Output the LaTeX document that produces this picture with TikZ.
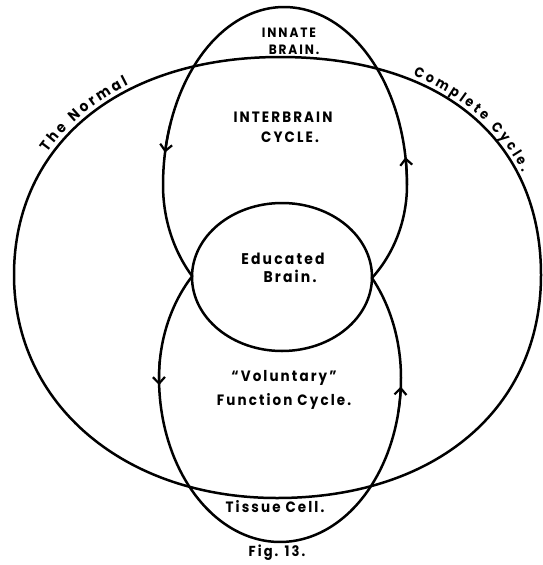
\documentclass[tikz,border=0pt]{standalone}
\usepackage{fontspec}
\setmainfont{Poppins}
\newfontfamily\handfont{Poppins}[LetterSpace=14, FakeStretch=0.9]
\newfontfamily\curvefont{Poppins}[FakeStretch=0.9]
\usetikzlibrary{arrows.meta,decorations.text,shapes.geometric}
\newcommand\fsz[2]{\fontsize{#1}{#2}\selectfont}
\begin{document}
\begin{tikzpicture}[x=1pt,y=-1pt, line width=2.5pt, line join=round,
  lab/.style={align=center, inner sep=0pt},
  tipdraw/.style={-{Straight Barb[length=6.5pt,width=12pt]}, line width=2.2pt}]
\useasboundingbox (0,0) rectangle (543,565);
% outer "normal complete cycle"
\draw (14,275) .. controls (14,144) and (120,57) .. (280,57)
  .. controls (441.8,57) and (541,139.8) .. (541,275)
  .. controls (541,408.8) and (435.4,498) .. (277,498)
  .. controls (124.5,498) and (14,404.3) .. (14,275) -- cycle;
% labels along outer curve
\path[decorate, decoration={text along path, text={|\curvefont\bfseries\fsz{15}{17}|The Normal}, text align={fit to path}, raise=4.5pt}]
  plot[domain=0.35:0.64, samples=30]
  ({(1-\x)^3*14+3*(1-\x)^2*\x*14+3*(1-\x)*\x^2*120+\x^3*280},
   {(1-\x)^3*275+3*(1-\x)^2*\x*144+3*(1-\x)*\x^2*57+\x^3*57});
\path[decorate, decoration={text along path, text={|\curvefont\bfseries\fsz{14}{16}|Complete Cycle.}, text align={fit to path}, raise=4.5pt}]
  plot[domain=0.31:0.72, samples=30]
  ({(1-\x)^3*280+3*(1-\x)^2*\x*441.8+3*(1-\x)*\x^2*541+\x^3*541},
   {(1-\x)^3*57+3*(1-\x)^2*\x*57+3*(1-\x)*\x^2*139.8+\x^3*275});
% educated brain
\node[draw, ellipse, minimum width=180pt, minimum height=148pt, inner sep=0pt] (edu) at (282,277) {};
% figure-eight cycles
\draw plot[domain=-44.4:0, samples=30] ({284+123*cos(\x)},{185-133*sin(\x)})
  -- plot[domain=0:90, samples=40] ({284+123*cos(\x)},{185-178*sin(\x)})
  -- plot[domain=90:180, samples=40] ({284+121*cos(\x)},{185-178*sin(\x)})
  -- plot[domain=180:220.5, samples=30] ({284+121*cos(\x)},{185-140*sin(\x)})
  -- plot[domain=136.6:180, samples=30] ({280+121*cos(\x)},{378-148*sin(\x)})
  -- plot[domain=180:360, samples=80] ({280+121*cos(\x)},{378-164*sin(\x)})
  -- plot[domain=0:40.5, samples=30] ({280+121*cos(\x)},{378-154*sin(\x)})
  -- cycle;
% arrows
\draw[tipdraw] plot[domain=160:169.5, samples=6] ({284+121*cos(\x)},{185-178*sin(\x)});
\draw[tipdraw] plot[domain=0:9, samples=6] ({284+123*cos(\x)},{185-178*sin(\x)});
\draw[tipdraw] plot[domain=174:182.5, samples=6] ({280+121*cos(\x)},{378-164*sin(\x)});
\draw[tipdraw] plot[domain=348:357, samples=6] ({280+121*cos(\x)},{378-164*sin(\x)});
% texts
\node[lab, font=\handfont\bfseries\fsz{13.5}{17}] (innate) at (289,41) {INNATE\\\hspace*{10pt}BRAIN.};
\node[lab, font=\handfont\bfseries\fsz{15}{20}] (inter) at (283,127) {INTERBRAIN\\\hspace*{14pt}CYCLE.};
\node[lab, font=\handfont\bfseries\fsz{15.5}{18}] (edutext) at (283,268) {Educated\\\hspace*{14pt}Brain.};
\node[lab, font=\handfont\bfseries\fsz{15}{24}] (vol) at (284,390) {“Voluntary”\\Function Cycle.};
\node[lab, font=\handfont\bfseries\fsz{15}{16}] (tissue) at (275,507) {Tissue Cell.};
\node[lab, font=\handfont\bfseries\fsz{14.5}{16}] (fig) at (277,553) {Fig. 13.};
\end{tikzpicture}
\end{document}
